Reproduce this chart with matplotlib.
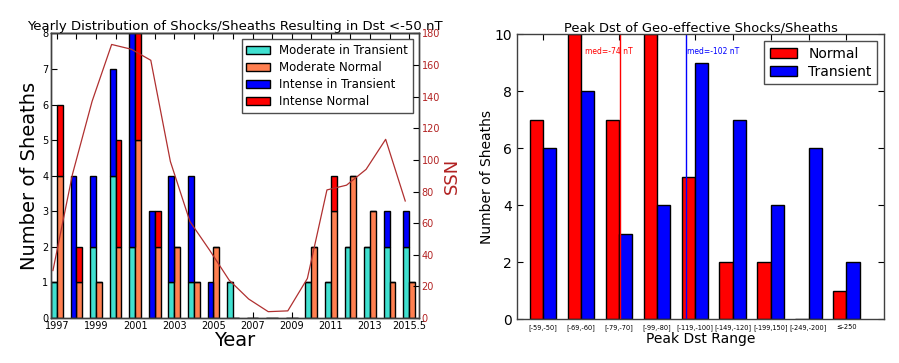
import matplotlib
matplotlib.use('Agg')
import matplotlib.pyplot as plt
import numpy as np

# yearly counts (left panel)
years = np.arange(1997, 2016)
mod_transient = [1, 0, 2, 4, 2, 0, 1, 1, 0, 1, 0, 0, 0, 1, 1, 2, 2, 2, 2]
int_transient = [0, 4, 2, 3, 6, 3, 3, 3, 1, 0, 0, 0, 0, 0, 0, 0, 0, 1, 1]
mod_normal = [4, 1, 1, 2, 5, 2, 2, 1, 2, 0, 0, 0, 0, 2, 3, 4, 3, 1, 1]
int_normal = [2, 1, 0, 3, 3, 1, 0, 0, 0, 0, 0, 0, 0, 0, 1, 0, 0, 0, 0]
ssn = [30, 91, 137, 173, 170, 163, 99, 61, 43, 24, 12, 4, 4.5, 25, 81, 84, 94, 113, 74]
year_ticks = [1997, 1999, 2001, 2003, 2005, 2007, 2009, 2011, 2013, 2015]
year_labels = ['1997', '1999', '2001', '2003', '2005', '2007', '2009', '2011', '2013', '2015.5']

# peak Dst histogram (right panel)
dst_ranges = ['[-59,-50]', '[-69,-60]', '[-79,-70]', '[-99,-80]', '[-119,-100]',
              '[-149,-120]', '[-199,150]', '[-249,-200]', '\u2264-250']
normal_counts = [7, 10, 7, 10, 5, 2, 2, 0, 1]
transient_counts = [6, 8, 3, 4, 9, 7, 4, 6, 2]
med_normal = 2.38
med_transient = 4.11

plt.rcParams['font.family'] = 'DejaVu Sans'
plt.rcParams['xtick.direction'] = 'in'
plt.rcParams['ytick.direction'] = 'in'
plt.rcParams['xtick.top'] = True
plt.rcParams['ytick.right'] = True
plt.rcParams['xtick.major.size'] = 4
plt.rcParams['ytick.major.size'] = 4
plt.rcParams['axes.linewidth'] = 1.0
plt.rcParams['axes.edgecolor'] = '0.25'

fig = plt.figure(figsize=(8.99, 3.63), dpi=100)

# ---------- left panel ----------
ax1 = fig.add_axes([0.0567, 0.124, 0.4093, 0.784])
w = 0.3
ax1.bar(years - w, mod_transient, w, align='edge', color='turquoise',
        edgecolor='k', linewidth=1, label='Moderate in Transient')
ax1.bar(years, mod_normal, w, align='edge', color='coral',
        edgecolor='k', linewidth=1, label='Moderate Normal')
ax1.bar(years - w, int_transient, w, bottom=mod_transient, align='edge', color='b',
        edgecolor='k', linewidth=1, label='Intense in Transient')
ax1.bar(years, int_normal, w, bottom=mod_normal, align='edge', color='r',
        edgecolor='k', linewidth=1, label='Intense Normal')
ax1.set_xlim(1996.7, 2015.5)
ax1.set_ylim(0, 8)
ax1.set_xticks(year_ticks)
ax1.set_xticklabels(year_labels)
ax1.tick_params(labelsize=7, top=False, pad=2)
ax1.set_xlabel('Year', fontsize=14, labelpad=0)
ax1.set_ylabel('Number of Sheaths', fontsize=14, labelpad=2)
ax1.set_title('Yearly Distribution of Shocks/Sheaths Resulting in Dst <-50 nT',
              fontsize=9.5, pad=2)
ax1.legend(loc='upper right', fontsize=8.5, fancybox=False, framealpha=1,
           edgecolor='0.3', borderaxespad=0.5, labelspacing=0.35)

top = ax1.secondary_xaxis('top')
top.set_xticks(years)
top.tick_params(direction='in', labeltop=False, length=4)

ax2 = ax1.twinx()
ax2.plot(years - 0.2, ssn, color='#b03030', linewidth=0.9)
ax2.set_ylim(0, 180)
ax2.set_yticks(np.arange(0, 181, 20))
ax2.tick_params(labelsize=7, labelcolor='firebrick', pad=2)
ax2.set_ylabel('SSN', color='firebrick', fontsize=13, labelpad=2)

# ---------- right panel ----------
ax3 = fig.add_axes([0.5747, 0.121, 0.409, 0.785])
x = np.arange(len(dst_ranges))
bw = 0.35
ax3.bar(x, normal_counts, bw, align='edge', color='r', edgecolor='k',
        linewidth=1, label='Normal')
ax3.bar(x + bw, transient_counts, bw, align='edge', color='b', edgecolor='k',
        linewidth=1, label='Transient')
ax3.axvline(med_normal, color='r', linewidth=1)
ax3.axvline(med_transient, color='b', linewidth=1)
ax3.text(1.46, 9.38, 'med=-74 nT', color='r', fontsize=5.5, va='center')
ax3.text(4.15, 9.38, 'med=-102 nT', color='b', fontsize=5.5, va='center')
ax3.set_xlim(-0.35, 9.35)
ax3.set_ylim(0, 10)
ax3.set_xticks(x + bw)
ax3.set_xticklabels(dst_ranges, fontsize=4.8)
ax3.tick_params(axis='y', labelsize=10)
ax3.set_xlabel('Peak Dst Range', fontsize=10, labelpad=1)
ax3.set_ylabel('Number of Sheaths', fontsize=10, labelpad=0)
ax3.set_title('Peak Dst of Geo-effective Shocks/Sheaths', fontsize=9.4, pad=2)
ax3.legend(loc='upper right', fontsize=10, fancybox=False, framealpha=1,
           edgecolor='0.3', borderaxespad=0.5, labelspacing=0.3)

fig.savefig('out.png', dpi=100, facecolor='white')
